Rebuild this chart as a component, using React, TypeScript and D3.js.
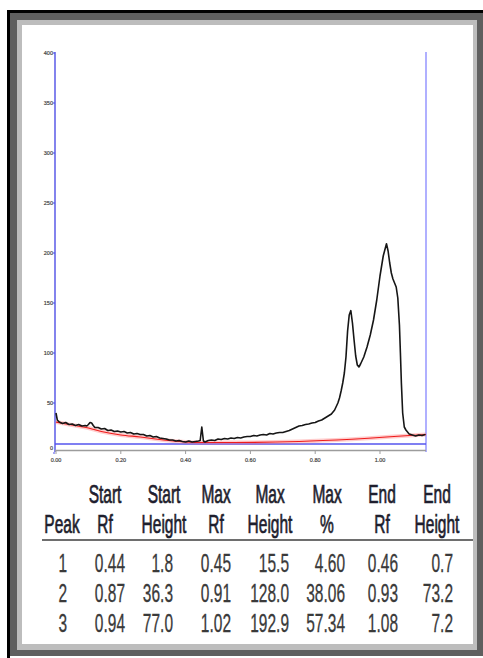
import React from "react";
import * as d3 from "d3";

// Densitometer trace: [Rf, height]
const trace: [number, number][] = [
  [0.0, 40], [0.004, 33], [0.01, 31], [0.02, 29.5], [0.03, 30.5], [0.04, 28.5], [0.05, 29],
  [0.06, 27.5], [0.07, 28.5], [0.08, 27], [0.09, 27.5], [0.095, 27], [0.1, 28.5], [0.105, 30.5],
  [0.11, 30], [0.115, 27.5], [0.12, 25.5], [0.13, 25.5], [0.14, 24], [0.15, 24.5], [0.16, 22.5],
  [0.17, 23], [0.18, 21.5], [0.19, 22], [0.2, 21], [0.21, 21.5], [0.22, 20], [0.23, 20.5],
  [0.24, 19], [0.25, 19.5], [0.26, 18.5], [0.27, 18.5], [0.28, 17], [0.29, 17.5], [0.3, 16],
  [0.31, 16.5], [0.32, 15], [0.33, 14.5], [0.34, 14], [0.35, 13], [0.36, 13], [0.37, 12],
  [0.38, 12.5], [0.39, 11.5], [0.4, 11], [0.41, 12], [0.42, 11], [0.43, 11.5], [0.44, 12],
  [0.445, 12.5], [0.455, 12], [0.46, 11], [0.47, 12.5], [0.48, 13], [0.49, 12.5], [0.5, 14],
  [0.51, 13.5], [0.52, 14.5], [0.53, 14], [0.54, 15], [0.55, 14.5], [0.56, 15.5], [0.57, 15],
  [0.58, 16], [0.59, 16.5], [0.6, 16.5], [0.61, 17.5], [0.62, 17], [0.63, 18], [0.64, 18.5],
  [0.65, 18], [0.66, 19.5], [0.67, 19], [0.68, 20], [0.69, 20.5], [0.7, 20.5], [0.71, 21.5],
  [0.72, 22.5], [0.73, 24], [0.74, 25.5], [0.75, 27], [0.76, 27.5], [0.77, 28.5], [0.78, 29],
  [0.79, 30], [0.8, 30.5], [0.81, 32], [0.82, 33], [0.83, 35], [0.84, 37], [0.85, 39],
  [0.86, 43], [0.87, 50], [0.875, 55], [0.88, 62], [0.885, 70], [0.89, 80], [0.895, 96],
  [0.9, 122], [0.905, 138], [0.915, 130], [0.92, 113], [0.925, 97], [0.93, 88], [0.935, 86],
  [0.94, 89], [0.95, 96], [0.96, 106], [0.97, 118], [0.98, 133], [0.99, 153], [1.0, 177],
  [1.01, 197], [1.025, 202], [1.03, 190], [1.035, 180], [1.04, 174], [1.045, 170], [1.05, 166],
  [1.055, 155], [1.06, 128], [1.063, 100], [1.066, 70], [1.07, 40], [1.075, 26], [1.08, 23],
  [1.09, 19], [1.1, 18], [1.11, 17], [1.12, 18], [1.13, 17.5], [1.14, 18.5],
];

// Fitted baseline
const baseRf = [0, 0.04, 0.1, 0.14, 0.2, 0.26, 0.32, 0.38, 0.44, 0.55, 0.75, 1.142];
const baseH = [31, 28.5, 25, 21.5, 18, 16, 13.5, 11.5, 10.5, 10.5, 11.5, 18.5];

const thresholdLevel = 9;

// Peak table
const peakIds = [1, 2, 3];
const startRf = [0.44, 0.87, 0.94];
const startHeight = [1.8, 36.3, 77.0];
const maxRf = [0.45, 0.91, 1.02];
const maxHeight = [15.5, 128.0, 192.9];
const maxPct = [4.6, 38.06, 57.34];
const endRf = [0.46, 0.93, 1.08];
const endHeight = [0.7, 73.2, 7.2];

const headerTop = ["", "Start", "Start", "Max", "Max", "Max", "End", "End"];
const headerBottom = ["Peak", "Rf", "Height", "Rf", "Height", "%", "Rf", "Height"];

const yTicks = [0, 50, 100, 150, 200, 250, 300, 350, 400];
const xTicks = [0, 0.2, 0.4, 0.6, 0.8, 1.0];

// layout
const W = 483;
const H = 658;
const colCenter = [62, 105, 164, 216, 270, 327, 382, 437];
const colRight = [67, 125, 173, 231, 289, 345, 398, 453];
const narrow = 0.62;

export default function App() {
  const x = d3.scaleLinear().domain([0, 1.142]).range([56, 426]);
  const y = d3.scaleLinear().domain([0, 400]).range([453, 53]);
  const baseAt = d3.scaleLinear().domain(baseRf).range(baseH);

  // apex of each peak sits at baseline + tabulated max height
  const apexes: [number, number][] = maxRf.map((rf, i) => [rf, baseAt(rf) + maxHeight[i]]);
  const pts = [...trace, ...apexes].sort((a, b) => a[0] - b[0]);

  const line = d3
    .line<[number, number]>()
    .x((d) => x(d[0]))
    .y((d) => y(d[1]));
  const baseLine = d3
    .line<number>()
    .x((d) => x(d))
    .y((d, i) => y(baseH[i]))
    .curve(d3.curveMonotoneX);

  const x0 = x(0) - 1;
  const x1 = x(1.142);
  const yTop = y(401);
  const yBot = 452;

  const rows = peakIds.map((p, i) => [
    String(p),
    startRf[i].toFixed(2),
    startHeight[i].toFixed(1),
    maxRf[i].toFixed(2),
    maxHeight[i].toFixed(1),
    maxPct[i].toFixed(2),
    endRf[i].toFixed(2),
    endHeight[i].toFixed(1),
  ]);

  const font = "'Liberation Sans', Arial, sans-serif";

  return (
    <svg
      width={W}
      height={H}
      style={{ position: "absolute", left: 0, top: 0, display: "block" }}
    >
      <rect x={0} y={0} width={W} height={H} fill="#fff" />
      {/* frame */}
      <rect x={7} y={10} width={3} height={648} fill="#000" />
      <rect x={7} y={10} width={476} height={3} fill="#000" />
      <rect x={10} y={13} width={473} height={643} fill="#5f5f5f" />
      <rect x={17} y={20} width={460} height={630} fill="#bdbdbd" />
      <rect x={22} y={25} width={451} height={619} fill="#fff" />

      {/* y axis */}
      <line x1={x0} x2={x0} y1={yTop} y2={yBot} stroke="#4f4fe6" strokeWidth={1.4} />
      {yTicks.map((v) => (
        <g key={v}>
          <line x1={x0 - 2} x2={x0} y1={y(v)} y2={y(v)} stroke="#4f4fe6" strokeWidth={1} />
          <text
            x={x0 - 2}
            y={y(v) + 2 + (v === 0 ? -5 : 0)}
            fontSize={5.5}
            fontFamily={font}
            textAnchor="end"
            fill="#444"
            stroke="#444"
            strokeWidth={0.2}
          >
            {v}
          </text>
        </g>
      ))}
      <line x1={x1} x2={x1} y1={yTop} y2={yBot} stroke="#8f8fff" strokeWidth={1.4} />

      {/* x axis */}
      <line x1={x0} x2={x1} y1={450.5} y2={450.5} stroke="#9c9c9c" strokeWidth={1.5} />
      {xTicks.map((v) => (
        <g key={v}>
          <line x1={x(v)} x2={x(v)} y1={451} y2={454} stroke="#9c9c9c" strokeWidth={1} />
          <text
            x={x(v)}
            y={462}
            fontSize={5.5}
            fontFamily={font}
            textAnchor="middle"
            fill="#444"
            stroke="#444"
            strokeWidth={0.2}
          >
            {v.toFixed(2)}
          </text>
        </g>
      ))}

      {/* threshold */}
      <line
        x1={x0}
        x2={x1}
        y1={y(thresholdLevel)}
        y2={y(thresholdLevel)}
        stroke="#5454ee"
        strokeWidth={1.4}
      />

      {/* baseline */}
      <path d={baseLine(baseRf) || ""} fill="none" stroke="#ff7070" strokeOpacity={0.35} strokeWidth={4} />
      <path d={baseLine(baseRf) || ""} fill="none" stroke="#ee1c1c" strokeWidth={1.2} />

      {/* trace */}
      <path
        d={line(pts) || ""}
        fill="none"
        stroke="#161616"
        strokeWidth={1.6}
        strokeLinejoin="round"
      />

      {/* table */}
      <g fontFamily={font} fontSize={25}>
        {headerTop.map((t, i) => (
          <text
            key={"ht" + i}
            transform={`translate(${colCenter[i]},503) scale(${narrow},1)`}
            textAnchor="middle"
            fill="#1e1e2e"
            stroke="#1e1e2e"
            strokeWidth={0.7}
          >
            {t}
          </text>
        ))}
        {headerBottom.map((t, i) => (
          <text
            key={"hb" + i}
            transform={`translate(${colCenter[i]},533) scale(${narrow},1)`}
            textAnchor="middle"
            fill="#1e1e2e"
            stroke="#1e1e2e"
            strokeWidth={0.7}
          >
            {t}
          </text>
        ))}
        <line x1={42} x2={473} y1={540} y2={540} stroke="#6e6e6e" strokeWidth={2} />
        {rows.map((r, ri) =>
          r.map((t, ci) => (
            <text
              key={`r${ri}c${ci}`}
              transform={`translate(${colRight[ci]},${572 + ri * 30}) scale(${narrow},1)`}
              textAnchor="end"
              fill="#3a3a3a"
              stroke="#3a3a3a"
              strokeWidth={0.3}
            >
              {t}
            </text>
          ))
        )}
      </g>
    </svg>
  );
}
